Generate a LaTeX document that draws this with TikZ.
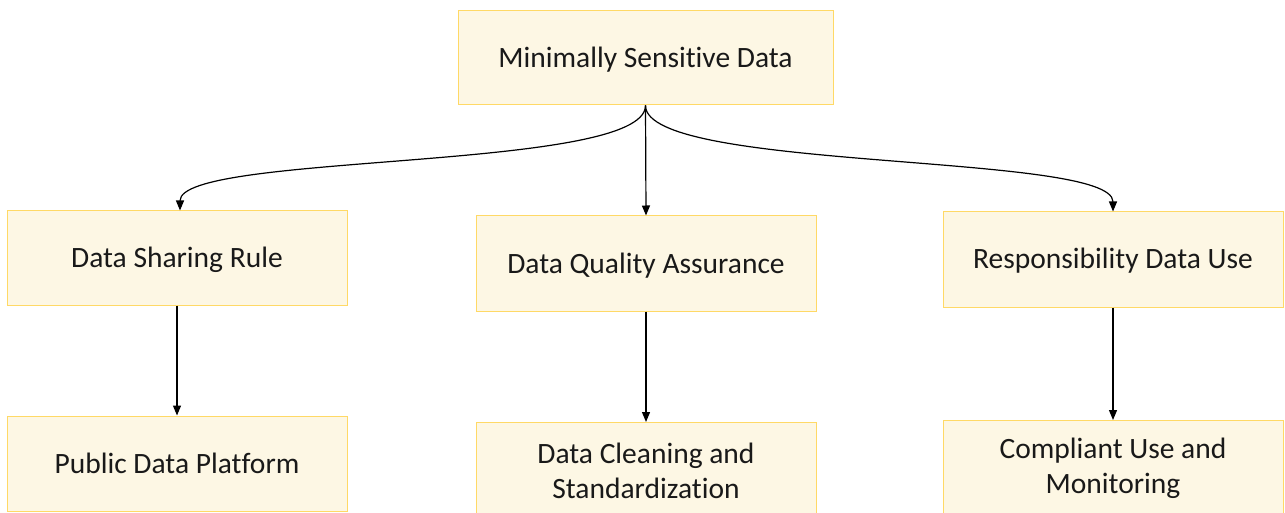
\documentclass[tikz,border=0pt]{standalone}
\usepackage{fontspec}
\setmainfont[Ligatures=NoCommon]{Carlito}
\usetikzlibrary{arrows.meta}
\definecolor{boxfill}{HTML}{FDF7E4}
\definecolor{boxline}{HTML}{FFD966}
\tikzset{
  box/.style={draw=boxline, fill=boxfill, line width=1pt, rectangle, inner sep=0pt,
    align=center, font=\fontsize{29.5}{35}\selectfont, text=black!90},
  oneline/.style={box, text height=19pt, text depth=0pt},
  conn/.style={draw=black, line width=1.2pt, -{Triangle[length=10pt,width=8pt]}},
}
\begin{document}
\begin{tikzpicture}[x=1pt,y=-1pt]
\useasboundingbox (0,0) rectangle (1285,513);
\begin{scope}
\clip (0,0) rectangle (1285,513);
\node[oneline, minimum width=375pt, minimum height=94pt] (top) at (645.5,58) {Minimally Sensitive Data};
\node[oneline, minimum width=340pt, minimum height=94pt] (dsr) at (177,258) {Data Sharing Rule};
\node[oneline, minimum width=340pt, minimum height=95pt] (dqa) at (646,263.5) {Data Quality Assurance};
\node[oneline, minimum width=340pt, minimum height=95pt] (rdu) at (1113,259.5) {Responsibility Data Use};
\node[oneline, minimum width=340pt, minimum height=95pt] (pdp) at (177,463.5) {Public Data Platform};
\node[box, minimum width=340pt, minimum height=96pt] (dcs) at (646,470.5) {Data Cleaning and\\Standardization};
\node[box, minimum width=340pt, minimum height=96pt] (cum) at (1113,468.5) {Compliant Use and\\Monitoring};
\end{scope}
\draw[conn] (top.south) .. controls (645.5,172) and (180,152) .. (dsr.north -| 180,0);
\draw[conn] (top.south) -- (dqa.north);
\draw[conn] (top.south) .. controls (645.5,172) and (1113,152) .. (rdu.north);
\draw[conn] (dsr.south) -- (pdp.north);
\draw[conn] (dqa.south) -- (dcs.north);
\draw[conn] (rdu.south) -- (cum.north);
\end{tikzpicture}
\end{document}
